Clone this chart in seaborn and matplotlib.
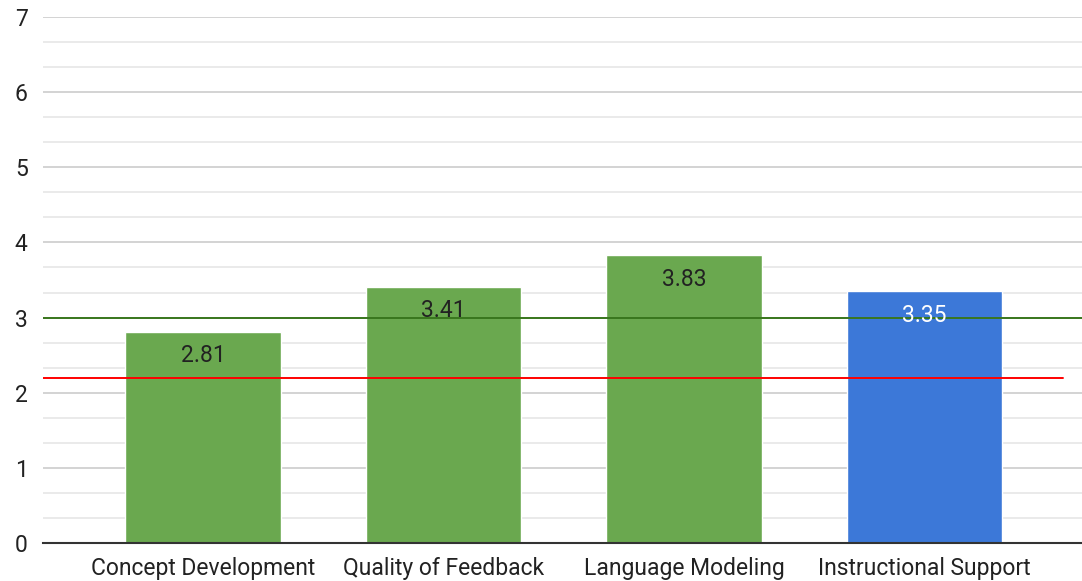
import numpy as np
import pandas as pd
import matplotlib
matplotlib.use("Agg")
import matplotlib.pyplot as plt
import seaborn as sns

categories = ["Concept Development", "Quality of Feedback", "Language Modeling", "Instructional Support"]
scores = [2.81, 3.41, 3.83, 3.35]
bar_colors = ["#6aa84f", "#6aa84f", "#6aa84f", "#3c78d8"]
label_colors = ["#222222", "#222222", "#222222", "#ffffff"]
green_line = 3.0
red_line = 2.2

sns.set_theme(style="white")
plt.rcParams['font.family'] = ['Roboto', 'DejaVu Sans']

df = pd.DataFrame({"category": categories, "score": scores})

fig = plt.figure(figsize=(10.82, 5.81), dpi=100)
ax = fig.add_axes([43 / 1082, 38 / 581, 1 - 43 / 1082, 526 / 581])

sns.barplot(data=df, x="category", y="score", hue="category", palette=bar_colors,
            legend=False, width=0.645, ax=ax, zorder=3, saturation=1)

ax.set_ylim(0, 7)
ax.set_xlim(-0.665, 3.655)
ax.set_yticks(range(8))
ax.set_yticks(np.arange(0, 7.01, 1 / 3), minor=True)
ax.grid(axis="y", which="major", color="#cccccc", linewidth=1.2, zorder=0)
ax.grid(axis="y", which="minor", color="#e6e6e6", linewidth=1.2, zorder=0)
ax.tick_params(axis="both", which="both", length=0, labelsize=16.5, labelcolor="#222222")
ax.tick_params(axis="y", pad=11)
ax.tick_params(axis="x", pad=10)
ax.set_xlabel("")
ax.set_ylabel("")
for s in ["top", "right", "left"]:
    ax.spines[s].set_visible(False)
ax.spines["bottom"].set_color("#333333")
ax.spines["bottom"].set_linewidth(1.5)
ax.spines["bottom"].set_zorder(5)

# value labels just inside the top of each bar
for i, (v, c) in enumerate(zip(scores, label_colors)):
    ax.text(i, v - 0.32, f"{v:.2f}", ha="center", va="center", fontsize=16.5, color=c, zorder=6)

# target lines
ax.plot([-0.665, 3.655], [green_line, green_line], color="#38761d", linewidth=1.4, zorder=4)
ax.plot([-0.665, 3.576], [red_line, red_line], color="#ff0000", linewidth=1.4, zorder=4)

fig.savefig("out.png", dpi=100)
